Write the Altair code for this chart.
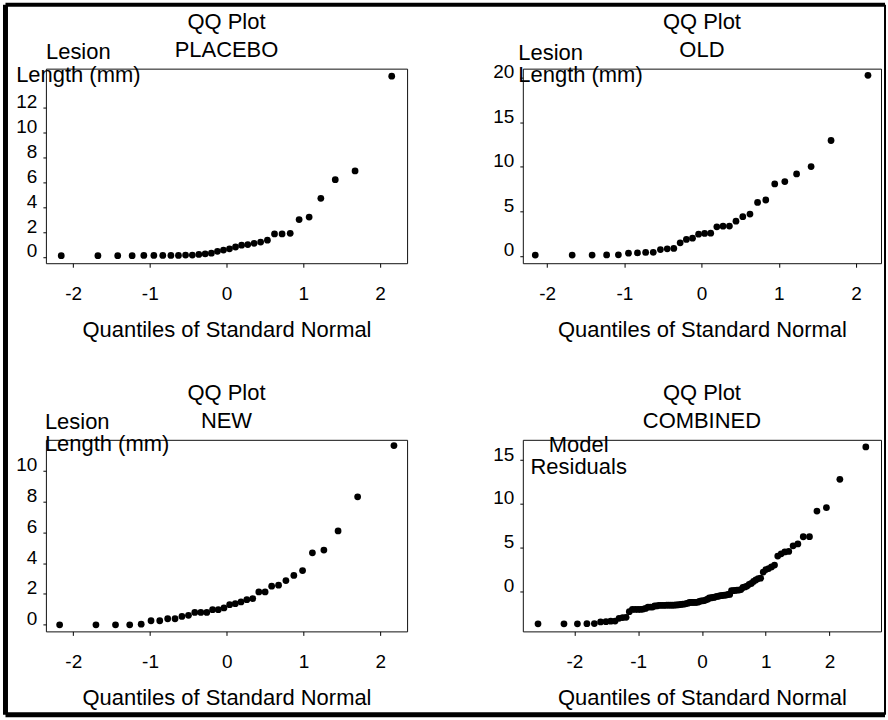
import altair as alt
import pandas as pd

# Sorted lesion lengths (mm)
placebo = [0.1, 0.1, 0.1, 0.1, 0.12, 0.12, 0.12, 0.12, 0.12, 0.15, 0.15, 0.2, 0.25, 0.3,
           0.45, 0.55, 0.65, 0.8, 0.95, 1.0, 1.1, 1.2, 1.35, 1.85, 1.85, 1.9, 3.0, 3.2,
           4.7, 6.2, 6.9, 14.5]
old = [0.08, 0.08, 0.08, 0.1, 0.11, 0.3, 0.32, 0.38, 0.4, 0.71, 0.79, 0.83, 1.47, 1.84,
       1.99, 2.44, 2.52, 2.55, 3.27, 3.33, 3.35, 3.9, 4.4, 4.7, 6.0, 6.28, 8.08, 8.35,
       9.21, 10.04, 12.97, 20.3]
new = [0.0, 0.0, 0.0, 0.0, 0.04, 0.26, 0.26, 0.39, 0.39, 0.54, 0.61, 0.8, 0.8, 0.8, 0.98,
       0.98, 1.09, 1.3, 1.37, 1.48, 1.63, 1.7, 2.13, 2.13, 2.5, 2.57, 2.87, 3.2, 3.52,
       4.67, 4.85, 6.09, 8.3, 11.63]

x_ticks = [-2, -1, 0, 1, 2]
placebo_ticks = [0, 2, 4, 6, 8, 10, 12]
old_ticks = [0, 5, 10, 15, 20]
new_ticks = [0, 2, 4, 6, 8, 10]
combined_ticks = [0, 5, 10, 15]

df = pd.DataFrame({
    "group": ["PLACEBO"] * len(placebo) + ["OLD"] * len(old) + ["NEW"] * len(new),
    "value": placebo + old + new,
})

FONT = "Liberation Sans"
one_row = pd.DataFrame({"k": [0]})


def label(txt, x, y, align="center"):
    return alt.Chart(one_row).mark_text(
        font=FONT, fontSize=22, color="black", align=align, baseline="alphabetic"
    ).encode(x=alt.value(x), y=alt.value(y), text=alt.value(txt))


def rule(x, x2, y, y2, w):
    return alt.Chart(one_row).mark_rule(color="black", strokeWidth=w).encode(
        x=alt.value(x), x2=alt.value(x2), y=alt.value(y), y2=alt.value(y2)
    )


def panel(name, x_dom, y_dom, y_ticks, ytitle, ytx, yty, yalign, ylh, width, height,
          combined=False):
    base = alt.Chart(df)
    if combined:
        base = base.transform_joinaggregate(
            gmean="mean(value)", groupby=["group"]
        ).transform_calculate(y="datum.value - datum.gmean")
    else:
        base = base.transform_filter(alt.datum.group == name).transform_calculate(
            y="datum.value"
        )
    base = base.transform_window(
        rank="row_number()", sort=[alt.SortField("y", order="ascending")]
    ).transform_joinaggregate(n="count()").transform_calculate(
        z="quantileNormal((datum.rank - 0.5) / datum.n)"
    )
    pts = base.mark_circle(size=46, color="black", opacity=1).encode(
        x=alt.X("z:Q",
                scale=alt.Scale(domain=x_dom, nice=False, zero=False),
                axis=alt.Axis(values=x_ticks, title="Quantiles of Standard Normal",
                              titleY=73, titleBaseline="alphabetic",
                              tickSize=4, labelPadding=17,
                              labelExpr="'' + datum.value")),
        y=alt.Y("y:Q",
                scale=alt.Scale(domain=y_dom, nice=False, zero=False),
                axis=alt.Axis(values=y_ticks, title=ytitle, titleAngle=0,
                              titleX=ytx, titleY=yty, titleAlign=yalign,
                              titleBaseline="alphabetic", titleLineHeight=ylh,
                              labelOffset=-6, tickSize=3, labelPadding=6)),
    )
    return [pts, label("QQ Plot", width / 2, -40), label(name, width / 2, -11.5)]


p1 = alt.layer(
    *panel("PLACEBO", [-2.354, 2.354], [-0.5, 15.1], placebo_ticks,
           ["Lesion", "Length (mm)"], 32, -10, "center", 23, 362, 195),
    rule(-40.5, -40.5, -64, 647.5, 5),
    rule(-40.5, 841, -64, -64, 4),
    rule(-40.5, 841, 647.5, 647.5, 5),
    rule(841, 841, -64, 647.5, 2),
).properties(width=362, height=195)

p2 = alt.layer(
    *panel("OLD", [-2.315, 2.323], [-0.83, 21.05], old_ticks,
           ["Lesion", "Length (mm)"], -5, -9, "left", 22, 359, 195)
).properties(width=359, height=195)

p3 = alt.layer(
    *panel("NEW", [-2.357, 2.349], [-0.43, 12.0], new_ticks,
           ["Lesion", "Length (mm)"], -1.5, -11, "left", 22, 362, 192)
).properties(width=362, height=192)

p4 = alt.layer(
    *panel("COMBINED", [-2.807, 2.807], [-4.57, 17.32], combined_ticks,
           ["Model", "Residuals"], 55.5, 12, "center", 22, 359, 192, combined=True)
).properties(width=359, height=192)

chart = alt.concat(
    p1, p2, p3, p4, columns=2, spacing={"row": 177, "column": 116}, bounds="flush"
).configure(
    font=FONT, background="white"
).configure_view(
    stroke="#111", strokeWidth=1
).configure_axis(
    labelFont=FONT, labelFontSize=19, labelColor="black",
    titleFont=FONT, titleFontSize=22, titleFontWeight="normal", titleColor="black",
    tickColor="black", domain=False, grid=False
).properties(padding={"left": 2, "top": 1, "right": 0, "bottom": 0})

chart.save("out.html", embed_options={"renderer": "svg", "actions": False})
